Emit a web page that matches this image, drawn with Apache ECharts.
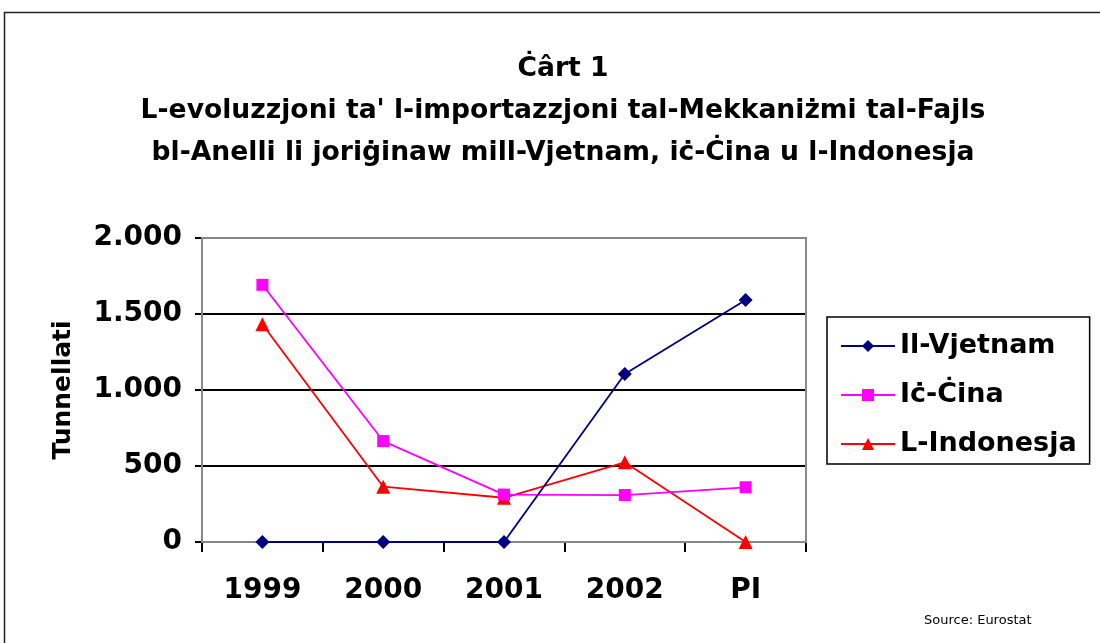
<!DOCTYPE html>
<html><head><meta charset="utf-8">
<script src="https://cdn.jsdelivr.net/npm/echarts@6/dist/echarts.min.js"></script>
<style>html,body{margin:0;padding:0;background:#fff}#c{width:1100px;height:643px}</style>
</head><body><div id="c"></div>
<script>
const categories = ['1999','2000','2001','2002','PI'];
const seriesNames = ['Il-Vjetnam','Iċ-Ċina','L-Indonesja'];
const vjetnam = [0, 0, 0, 1105, 1592];
const cina = [1692, 664, 312, 309, 360];
const indonesja = [1432, 364, 291, 524, 0];
const yTicks = [0, 500, 1000, 1500, 2000];
const titleLines = ['Ċârt 1', "L-evoluzzjoni ta' l-importazzjoni tal-Mekkaniżmi tal-Fajls", 'bl-Anelli li joriġinaw mill-Vjetnam, iċ-Ċina u l-Indonesja'];

const chart = echarts.init(document.getElementById('c'));
const FF = '"DejaVu Sans", "Liberation Sans", Arial, sans-serif';
chart.setOption({
  animation: false,
  backgroundColor: '#fff',
  title: {
    text: titleLines.join('\n'),
    left: 558, textAlign: 'center', top: 43,
    textStyle: {fontFamily: FF, fontWeight: 'bold', fontSize: 26.6, lineHeight: 42, color: '#000'}
  },
  graphic: [
    {type: 'rect', shape: {x: 4.5, y: 12.5, width: 1200, height: 700}, style: {fill: 'none', stroke: '#222', lineWidth: 1.5}, z: 0},
    {type: 'rect', shape: {x: 202, y: 238, width: 604, height: 304}, style: {fill: 'none', stroke: '#888', lineWidth: 2}, z: 1},
    {type: 'text', left: 924, top: 614, style: {text: 'Source: Eurostat', font: '13px ' + FF, fill: '#000'}}
  ],
  legend: {
    orient: 'vertical', left: 827, top: 317,
    data: seriesNames,
    borderColor: '#000', borderWidth: 1.5,
    padding: [15, 13, 6, 13],
    itemGap: 21, itemWidth: 54, itemHeight: 15,
    textStyle: {fontFamily: FF, fontWeight: 'bold', fontSize: 27, lineHeight: 28, color: '#000'}
  },
  grid: {left: 202, top: 238, width: 604, height: 304, containLabel: false},
  xAxis: {
    type: 'category', data: categories, boundaryGap: true,
    axisLine: {lineStyle: {color: '#000', width: 2}},
    axisTick: {show: true, length: 10, lineStyle: {color: '#000', width: 2}},
    axisLabel: {fontFamily: FF, fontWeight: 'bold', fontSize: 28, color: '#000', margin: 35}
  },
  yAxis: {
    type: 'value', min: yTicks[0], max: yTicks[yTicks.length - 1], interval: 500,
    name: 'Tunnellati', nameLocation: 'middle', nameGap: 126, nameRotate: 90,
    nameTextStyle: {fontFamily: FF, fontWeight: 'bold', fontSize: 25, color: '#000'},
    axisLine: {show: true, lineStyle: {color: '#000', width: 2}},
    axisTick: {show: true, length: 7, lineStyle: {color: '#000', width: 2}},
    splitLine: {lineStyle: {color: '#000', width: 2}},
    axisLabel: {fontFamily: FF, fontWeight: 'bold', fontSize: 28, color: '#000', margin: 20, padding: [5, 0, 0, 0],
      formatter: v => v >= 1000 ? Math.floor(v / 1000) + '.' + String(v % 1000).padStart(3, '0') : String(v)}
  },
  series: [
    {name: seriesNames[0], type: 'line', data: vjetnam, symbol: 'diamond', symbolSize: 14,
     lineStyle: {color: '#000080', width: 1.8}, itemStyle: {color: '#000080'}, z: 5},
    {name: seriesNames[1], type: 'line', data: cina, symbol: 'rect', symbolSize: 12,
     lineStyle: {color: '#ff00ff', width: 1.8}, itemStyle: {color: '#ff00ff'}, z: 4},
    {name: seriesNames[2], type: 'line', data: indonesja, symbol: 'triangle', symbolSize: 14,
     lineStyle: {color: '#ff0000', width: 1.8}, itemStyle: {color: '#ff0000'}, z: 3}
  ]
});
</script></body></html>
